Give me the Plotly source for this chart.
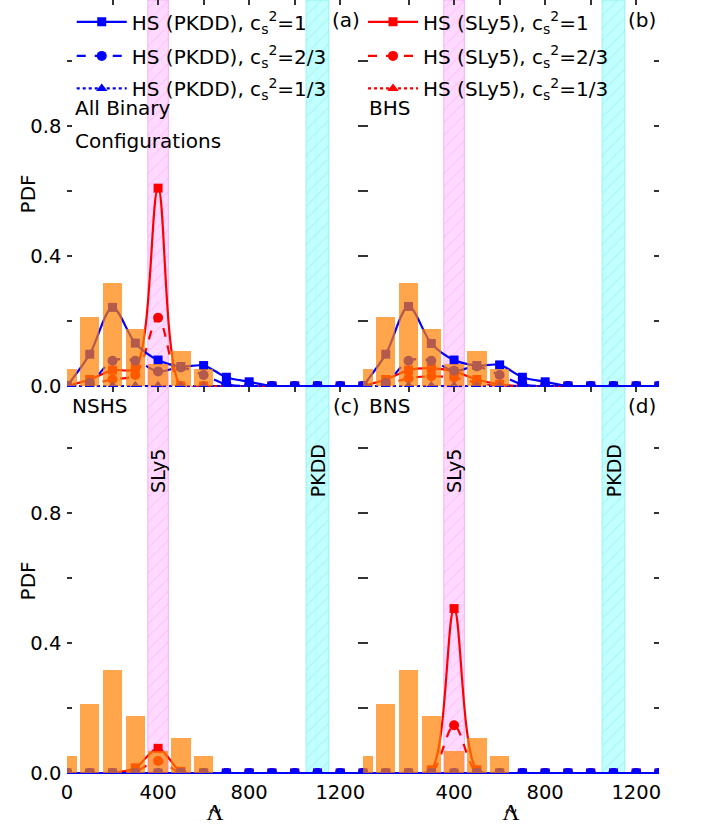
import plotly.graph_objects as go
from plotly.subplots import make_subplots

# ---------------- data ----------------
LAMBDA = [0, 100, 200, 300, 400, 500, 600, 700, 800, 900, 1000, 1100, 1200, 1300]

# histogram of binary configurations (same in all panels)
BIN_CENTERS = [0, 100, 200, 300, 400, 500, 600]
BIN_PDF = [0.053, 0.213, 0.318, 0.176, 0.069, 0.109, 0.053]

# (a) All Binary Configurations
pkdd_cs1_all = [0, 0.098, 0.242, 0.132, 0.080, 0.060, 0.063, 0.027, 0.013, 0, 0, 0, 0, 0]
pkdd_cs23_all = [0, 0.010, 0.078, 0.078, 0.045, 0.057, 0.034, 0.005, 0, 0, 0, 0, 0, 0]
pkdd_cs13_all = [0, 0, 0, 0, 0, 0, 0, 0, 0, 0, 0, 0, 0, 0]
sly5_cs1_all = [0, 0.020, 0.049, 0.055, 0.609, 0.0, 0, 0, 0, 0, 0, 0, 0, 0]
sly5_cs23_all = [0, 0.005, 0.021, 0.034, 0.210, 0.0, 0, 0, 0, 0, 0, 0, 0, 0]
sly5_cs13_all = [0, 0, 0, 0, 0, 0, 0, 0, 0, 0, 0, 0, 0, 0]

# (b) BHS
pkdd_cs1_bhs = [0, 0.098, 0.245, 0.131, 0.080, 0.063, 0.065, 0.027, 0.013, 0, 0, 0, 0, 0]
pkdd_cs23_bhs = [0, 0.010, 0.078, 0.078, 0.047, 0.060, 0.034, 0.005, 0, 0, 0, 0, 0, 0]
pkdd_cs13_bhs = [0, 0, 0, 0, 0, 0, 0, 0, 0, 0, 0, 0, 0, 0]
sly5_cs1_bhs = [0, 0.020, 0.049, 0.055, 0.045, 0.020, 0.005, 0, 0, 0, 0, 0, 0, 0]
sly5_cs23_bhs = [0, 0.005, 0.024, 0.030, 0.026, 0.010, 0, 0, 0, 0, 0, 0, 0, 0]
sly5_cs13_bhs = [0, 0, 0, 0, 0, 0, 0, 0, 0, 0, 0, 0, 0, 0]

# (c) NSHS
pkdd_cs1_nshs = [0, 0, 0, 0, 0, 0, 0, 0, 0, 0, 0, 0, 0, 0]
pkdd_cs23_nshs = [0, 0, 0, 0, 0, 0, 0, 0, 0, 0, 0, 0, 0, 0]
pkdd_cs13_nshs = [0, 0, 0, 0, 0, 0, 0, 0, 0, 0, 0, 0, 0, 0]
sly5_cs1_nshs = [0, 0, 0, 0.016, 0.076, 0.005, 0, 0, 0, 0, 0, 0, 0, 0]
sly5_cs23_nshs = [0, 0, 0, 0.005, 0.037, 0, 0, 0, 0, 0, 0, 0, 0, 0]
sly5_cs13_nshs = [0, 0, 0, 0, 0, 0, 0, 0, 0, 0, 0, 0, 0, 0]

# (d) BNS
pkdd_cs1_bns = [0, 0, 0, 0, 0, 0, 0, 0, 0, 0, 0, 0, 0, 0]
pkdd_cs23_bns = [0, 0, 0, 0, 0, 0, 0, 0, 0, 0, 0, 0, 0, 0]
pkdd_cs13_bns = [0, 0, 0, 0, 0, 0, 0, 0, 0, 0, 0, 0, 0, 0]
sly5_cs1_bns = [0, 0, 0, 0.010, 0.506, 0.010, 0, 0, 0, 0, 0, 0, 0, 0]
sly5_cs23_bns = [0, 0, 0, 0, 0.147, 0, 0, 0, 0, 0, 0, 0, 0, 0]
sly5_cs13_bns = [0, 0, 0, 0, 0, 0, 0, 0, 0, 0, 0, 0, 0, 0]

# EOS tidal deformability bands
SLY5_BAND = [355, 445]
PKDD_BAND = [1050, 1150]
BAND_LABELS = ["SLy5", "PKDD"]

CS2_LABELS = ["1", "2/3", "1/3"]
PANEL_TAGS = ["(a)", "(b)", "(c)", "(d)"]

X_RANGE = [0, 1300]
Y_RANGE = [-0.003, 1.188]
X_TICKS_LEFT = [0, 400, 800, 1200]
X_TICKS_RIGHT = [400, 800, 1200]

# ---------------- figure ----------------
FONT = "DejaVu Sans"
AXC = "#333333"
BLUE = "#0000FF"
RED = "#FF0000"
BAR_COLOR = "rgba(255,128,0,0.7)"

fig = make_subplots(rows=2, cols=2, horizontal_spacing=0, vertical_spacing=0)

panels = [
    (1, 1, [pkdd_cs1_all, pkdd_cs23_all, pkdd_cs13_all], [sly5_cs1_all, sly5_cs23_all, sly5_cs13_all]),
    (1, 2, [pkdd_cs1_bhs, pkdd_cs23_bhs, pkdd_cs13_bhs], [sly5_cs1_bhs, sly5_cs23_bhs, sly5_cs13_bhs]),
    (2, 1, [pkdd_cs1_nshs, pkdd_cs23_nshs, pkdd_cs13_nshs], [sly5_cs1_nshs, sly5_cs23_nshs, sly5_cs13_nshs]),
    (2, 2, [pkdd_cs1_bns, pkdd_cs23_bns, pkdd_cs13_bns], [sly5_cs1_bns, sly5_cs23_bns, sly5_cs13_bns]),
]

dashes = ["solid", "dash", "dot"]
symbols = ["square", "circle", "triangle-up"]
msizes = [9, 10, 10]
pkdd_legends = ["legend", "legend3", "legend4"]
sly5_legends = ["legend2", "legend5", "legend6"]

bands = [
    (SLY5_BAND, "rgba(255,0,255,0.15)", "rgba(235,140,235,0.55)", "rgba(245,170,245,0.9)"),
    (PKDD_BAND, "rgba(0,255,255,0.24)", "rgba(90,215,215,0.55)", "rgba(140,240,240,0.9)"),
]

for (r, c, pkdd, sly5) in panels:
    # shaded EOS bands
    for (b, bg, fg, edge) in bands:
        fig.add_trace(go.Scatter(
            x=[b[0], b[1], b[1], b[0], b[0]],
            y=[Y_RANGE[0], Y_RANGE[0], Y_RANGE[1], Y_RANGE[1], Y_RANGE[0]],
            mode="lines", fill="toself", fillcolor=bg,
            fillpattern=dict(shape="/", fgcolor=fg, bgcolor=bg, size=9, solidity=0.12),
            line=dict(color=edge, width=1), showlegend=False, hoverinfo="skip", zorder=-1,
        ), row=r, col=c)
    # SLy5 series (red)
    for i in range(3):
        fig.add_trace(go.Scatter(
            x=LAMBDA, y=sly5[i], mode="lines+markers",
            line=dict(color=RED, width=2.2, dash=dashes[i], shape="spline", smoothing=0.9),
            marker=dict(symbol=symbols[i], size=msizes[i], color=RED),
            name="HS (SLy5), c<sub>s</sub><sup>2</sup>=" + CS2_LABELS[i],
            legend=sly5_legends[i],
            showlegend=(r == 1 and c == 2), cliponaxis=False,
        ), row=r, col=c)
    # PKDD series (blue)
    for i in range(3):
        fig.add_trace(go.Scatter(
            x=LAMBDA, y=pkdd[i], mode="lines+markers",
            line=dict(color=BLUE, width=2.2, dash=dashes[i], shape="spline", smoothing=0.9),
            marker=dict(symbol=symbols[i], size=msizes[i], color=BLUE),
            name="HS (PKDD), c<sub>s</sub><sup>2</sup>=" + CS2_LABELS[i],
            legend=pkdd_legends[i],
            showlegend=(r == 1 and c == 1), cliponaxis=False,
        ), row=r, col=c)
    # histogram of configurations (drawn on top, semi-transparent)
    fig.add_trace(go.Bar(
        x=BIN_CENTERS, y=BIN_PDF, width=85,
        marker=dict(color=BAR_COLOR, line=dict(width=0)),
        showlegend=False, zorder=1,
    ), row=r, col=c)

# axes
for r in (1, 2):
    for c in (1, 2):
        fig.update_xaxes(
            range=X_RANGE, tickmode="array",
            tickvals=X_TICKS_LEFT if c == 1 else X_TICKS_RIGHT,
            ticks="inside", ticklen=5, tickwidth=1.5,
            tickcolor=AXC, showline=True, linecolor=AXC, linewidth=1.5, mirror="ticks",
            showgrid=False, zeroline=False, showticklabels=(r == 2), automargin=False,
            tickfont=dict(family=FONT, size=19.5, color="black"),
            minor=dict(tickmode="linear", tick0=0, dtick=200, ticks="inside", ticklen=5,
                       tickwidth=1.5, tickcolor=AXC),
            row=r, col=c)
        fig.update_yaxes(
            range=Y_RANGE, tick0=0, dtick=0.4, tickformat=".1f", ticks="inside", ticklen=5,
            tickwidth=1.5, tickcolor=AXC, showline=True, linecolor=AXC, linewidth=1.5,
            mirror="ticks", showgrid=False, zeroline=False, showticklabels=(c == 1),
            automargin=False,
            tickfont=dict(family=FONT, size=19.5, color="black"),
            minor=dict(dtick=0.2, ticks="inside", ticklen=5, tickwidth=1.5, tickcolor=AXC),
            row=r, col=c)

for c in (1, 2):
    fig.update_xaxes(title=dict(text="Λ", font=dict(family="Liberation Serif", size=24, color="black")),
                     row=2, col=c)

ann = []
afont = dict(family=FONT, size=20, color="black")
axes_ids = [("x", "y"), ("x2", "y2"), ("x3", "y3"), ("x4", "y4")]
for k, (xa, ya) in enumerate(axes_ids):
    ann.append(dict(text=PANEL_TAGS[k], xref=xa + " domain", yref=ya + " domain",
                    x=0.995, y=0.948 if k < 2 else 0.95, xanchor="right", yanchor="middle",
                    showarrow=False, font=afont))
ann.append(dict(text="All Binary", xref="x domain", yref="y domain", x=0.02, y=0.72,
                xanchor="left", yanchor="middle", showarrow=False, font=afont))
ann.append(dict(text="Configurations", xref="x domain", yref="y domain", x=0.02, y=0.635,
                xanchor="left", yanchor="middle", showarrow=False, font=afont))
ann.append(dict(text="BHS", xref="x2 domain", yref="y2 domain", x=0.015, y=0.72,
                xanchor="left", yanchor="middle", showarrow=False, font=afont))
ann.append(dict(text="NSHS", xref="x3 domain", yref="y3 domain", x=0.01, y=0.95,
                xanchor="left", yanchor="middle", showarrow=False, font=afont))
ann.append(dict(text="BNS", xref="x4 domain", yref="y4 domain", x=0.015, y=0.95,
                xanchor="left", yanchor="middle", showarrow=False, font=afont))
# y-axis titles
for ya in ("y", "y3"):
    ann.append(dict(text="PDF", xref="paper", yref=ya + " domain", x=-0.066, y=0.5,
                    textangle=-90, xanchor="center", yanchor="middle", showarrow=False,
                    font=dict(family=FONT, size=20, color="black")))
for (xa, ya) in [("x3", "y3"), ("x4", "y4")]:
    for band, lab in zip([SLY5_BAND, PKDD_BAND], BAND_LABELS):
        ann.append(dict(text=lab, xref=xa, yref=ya, x=(band[0] + band[1]) / 2, y=0.93,
                        textangle=-90, showarrow=False, xanchor="center", yanchor="middle",
                        font=dict(family=FONT, size=19, color="black")))
# tilde accent over the Lambda axis titles
for xa in ("x3", "x4"):
    ann.append(dict(text="~", xref=xa + " domain", yref="paper", x=0.5, y=-0.047,
                    xanchor="center", yanchor="middle", showarrow=False,
                    font=dict(family="Liberation Serif", size=22, color="black")))

leg_common = dict(xanchor="left", yanchor="top", bgcolor="rgba(0,0,0,0)",
                  font=dict(family=FONT, size=20, color="black"), itemwidth=50, borderwidth=0)
leg_rows = [0.997, 0.953, 0.911]
layout_legends = {}
for i in range(3):
    layout_legends[pkdd_legends[i]] = dict(x=0.008, y=leg_rows[i], **leg_common)
    layout_legends[sly5_legends[i]] = dict(x=0.5, y=leg_rows[i], **leg_common)

fig.update_layout(
    width=705, height=825,
    margin=dict(l=67, r=46, t=0, b=51),
    paper_bgcolor="white", plot_bgcolor="white",
    showlegend=True,
    annotations=ann,
    bargap=0,
    **layout_legends,
)

fig.write_html("out.html", config={"displayModeBar": False},
               post_script="document.body.style.margin='0px';")
